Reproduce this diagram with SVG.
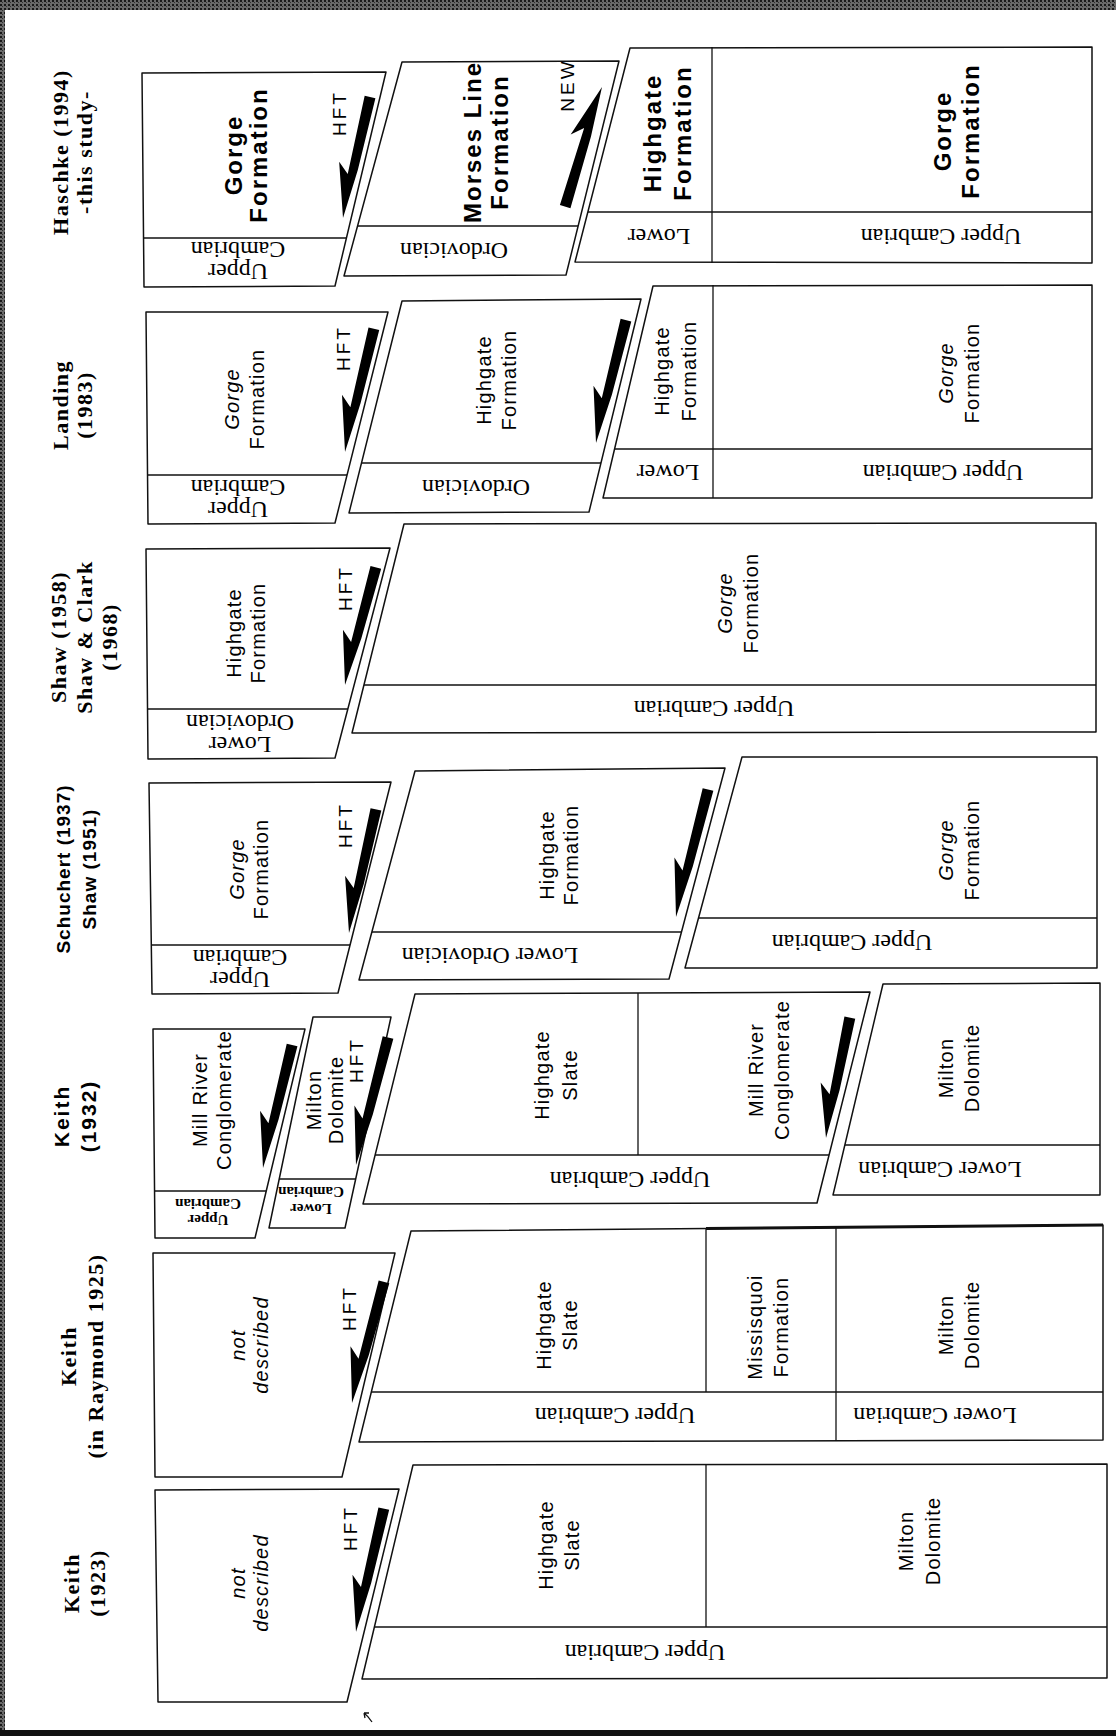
<svg xmlns="http://www.w3.org/2000/svg" xmlns:xlink="http://www.w3.org/1999/xlink" width="1116" height="1736" viewBox="0 0 1116 1736">
<defs>
<pattern id="tex" width="4" height="4" patternUnits="userSpaceOnUse"><rect width="4" height="4" fill="#6a6a6a"/><rect width="2" height="2" fill="#1a1a1a"/><rect x="2" y="2" width="1" height="1" fill="#333"/></pattern>
<path id="harp" d="M0,0 L-16,-54 L-5,-44 L-5.5,-124 L5.5,-124 L4,-50 Z"/>
<style>
.bx{fill:#fff;stroke:#111;stroke-width:1.5;stroke-linejoin:round}
.ln{stroke:#111;stroke-width:1.3;fill:none}
text{fill:#000;text-anchor:middle}
.hd{font-family:"Liberation Serif",serif;font-weight:bold;font-size:22px;letter-spacing:1.5px}
.hds{font-family:"Liberation Sans",sans-serif;font-weight:bold;font-size:19px;letter-spacing:1px}
.hdk{font-family:"Liberation Sans",sans-serif;font-weight:bold;font-size:21px;letter-spacing:2px}
.f{font-family:"Liberation Sans",sans-serif;font-size:20px;letter-spacing:1.2px}
.fi{font-family:"Liberation Sans",sans-serif;font-size:20px;letter-spacing:1.2px;font-style:italic}
.fb{font-family:"Liberation Sans",sans-serif;font-weight:bold;font-size:24px;letter-spacing:2px}
.ag{font-family:"Liberation Serif",serif;font-size:24px}
.sm{font-family:"Liberation Serif",serif;font-size:15px;font-weight:bold}
.hft{font-family:"Liberation Sans",sans-serif;font-size:19px;letter-spacing:3px}
</style>
</defs>
<rect width="1116" height="1736" fill="#fff"/>
<g id="frame">
<rect x="0" y="0" width="1116" height="10" fill="url(#tex)"/>
<rect x="0" y="0" width="5" height="1736" fill="url(#tex)"/>
<rect x="0" y="1730" width="1116" height="6" fill="#111"/>
<path d="M372,1722 Q368,1716 364,1713 M364,1713 l1,5 M364,1713 l5,0" class="ln" stroke-width="1"/>
</g>

<!-- Headers -->
<g id="headers">
<text class="hd" transform="translate(68,152) rotate(-90)">Haschke (1994)</text>
<text class="hd" transform="translate(92,152) rotate(-90)">-this study-</text>
<text class="hd" transform="translate(68,405) rotate(-90)">Landing</text>
<text class="hd" transform="translate(92,405) rotate(-90)">(1983)</text>
<text class="hd" transform="translate(66,637) rotate(-90)">Shaw (1958)</text>
<text class="hd" transform="translate(92,637) rotate(-90)">Shaw &amp; Clark</text>
<text class="hd" transform="translate(117,637) rotate(-90)">(1968)</text>
<text class="hds" transform="translate(70,869) rotate(-90)">Schuchert (1937)</text>
<text class="hds" transform="translate(96,869) rotate(-90)">Shaw (1951)</text>
<text class="hdk" transform="translate(69,1116) rotate(-90)">Keith</text>
<text class="hdk" transform="translate(96,1116) rotate(-90)">(1932)</text>
<text class="hd" transform="translate(76,1356) rotate(-90)">Keith</text>
<text class="hd" transform="translate(103,1356) rotate(-90)">(in Raymond 1925)</text>
<text class="hd" transform="translate(79,1583) rotate(-90)">Keith</text>
<text class="hd" transform="translate(105,1583) rotate(-90)">(1923)</text>
</g>

<!-- Row 1: Haschke -->
<g id="r1a">
<polygon class="bx" points="142,73 386,72 335,286 144,287"/>
<line class="ln" x1="144" y1="238" x2="346" y2="238"/>
<text class="fb" transform="translate(242,155) rotate(-90)">Gorge</text>
<text class="fb" transform="translate(267,155) rotate(-90)">Formation</text>
<text class="hft" transform="translate(346,113) rotate(-90)">HFT</text>
<text class="ag" transform="translate(238,241.6) rotate(180)">Cambrian</text>
<text class="ag" transform="translate(238,263.6) rotate(180)">Upper</text>
</g>
<g id="r1b">
<polygon class="bx" points="402,62 619,61 566,275 344,276"/>
<line class="ln" x1="357.6" y1="226" x2="578" y2="226"/>
<text class="fb" transform="translate(481,142) rotate(-90)">Morses Line</text>
<text class="fb" transform="translate(508,142) rotate(-90)">Formation</text>
<text class="hft" transform="translate(574,85) rotate(-90)">NEW</text>
<text class="ag" transform="translate(454,242.6) rotate(180)">Ordovician</text>
</g>
<g id="r1c">
<polygon class="bx" points="630,48 1092,47 1092,263 575,262"/>
<line class="ln" x1="712" y1="47" x2="712" y2="263"/>
<line class="ln" x1="588" y1="212" x2="1092" y2="212"/>
<text class="fb" transform="translate(661,133) rotate(-90)">Highgate</text>
<text class="fb" transform="translate(691,133) rotate(-90)">Formation</text>
<text class="fb" transform="translate(951,131) rotate(-90)">Gorge</text>
<text class="fb" transform="translate(979,131) rotate(-90)">Formation</text>
<text class="ag" transform="translate(659,228.6) rotate(180)">Lower</text>
<text class="ag" transform="translate(941,228.6) rotate(180)">Upper Cambrian</text>
</g>

<!-- Row 2: Landing -->
<g id="r2a">
<polygon class="bx" points="146,312 388,312 335,523 148,524"/>
<line class="ln" x1="148" y1="475" x2="347" y2="475"/>
<text class="fi" transform="translate(239,399) rotate(-90)">Gorge</text>
<text class="f" transform="translate(264,399) rotate(-90)">Formation</text>
<text class="hft" transform="translate(350,348) rotate(-90)">HFT</text>
<text class="ag" transform="translate(238,479.6) rotate(180)">Cambrian</text>
<text class="ag" transform="translate(238,501.6) rotate(180)">Upper</text>
</g>
<g id="r2b">
<polygon class="bx" points="402,301 641,299 589,512 349,513"/>
<line class="ln" x1="361.5" y1="463" x2="601" y2="463"/>
<text class="f" transform="translate(491,380) rotate(-90)">Highgate</text>
<text class="f" transform="translate(516,380) rotate(-90)">Formation</text>
<text class="ag" transform="translate(476,479.6) rotate(180)">Ordovician</text>
</g>
<g id="r2c">
<polygon class="bx" points="653,286 1092,285 1092,498 603,498"/>
<line class="ln" x1="713" y1="285" x2="713" y2="498"/>
<line class="ln" x1="614.6" y1="449" x2="1092" y2="449"/>
<text class="f" transform="translate(669,371) rotate(-90)">Highgate</text>
<text class="f" transform="translate(696,371) rotate(-90)">Formation</text>
<text class="fi" transform="translate(953,373) rotate(-90)">Gorge</text>
<text class="f" transform="translate(979,373) rotate(-90)">Formation</text>
<text class="ag" transform="translate(668,464.6) rotate(180)">Lower</text>
<text class="ag" transform="translate(943,464.6) rotate(180)">Upper Cambrian</text>
</g>

<!-- Row 3: Shaw -->
<g id="r3a">
<polygon class="bx" points="146,549 390,548 335,758 148,759"/>
<line class="ln" x1="148" y1="709" x2="348" y2="709"/>
<text class="f" transform="translate(241,633) rotate(-90)">Highgate</text>
<text class="f" transform="translate(265,633) rotate(-90)">Formation</text>
<text class="hft" transform="translate(352,588) rotate(-90)">HFT</text>
<text class="ag" transform="translate(240,714.6) rotate(180)">Ordovician</text>
<text class="ag" transform="translate(240,736.6) rotate(180)">Lower</text>
</g>
<g id="r3b">
<polygon class="bx" points="404,524 1096,523 1096,732 352,733"/>
<line class="ln" x1="364" y1="685" x2="1096" y2="685"/>
<text class="fi" transform="translate(732,603) rotate(-90)">Gorge</text>
<text class="f" transform="translate(758,603) rotate(-90)">Formation</text>
<text class="ag" transform="translate(714,700.6) rotate(180)">Upper Cambrian</text>
</g>

<!-- Row 4: Schuchert -->
<g id="r4a">
<polygon class="bx" points="149,783 391,782 338,993 152,994"/>
<line class="ln" x1="152" y1="945" x2="350" y2="945"/>
<text class="fi" transform="translate(244,869) rotate(-90)">Gorge</text>
<text class="f" transform="translate(268,869) rotate(-90)">Formation</text>
<text class="hft" transform="translate(352,825) rotate(-90)">HFT</text>
<text class="ag" transform="translate(240,949.6) rotate(180)">Cambrian</text>
<text class="ag" transform="translate(240,971.6) rotate(180)">Upper</text>
</g>
<g id="r4b">
<polygon class="bx" points="415,771 725,768 669,979 359,980"/>
<line class="ln" x1="372" y1="932" x2="681.5" y2="932"/>
<text class="f" transform="translate(554,855) rotate(-90)">Highgate</text>
<text class="f" transform="translate(578,855) rotate(-90)">Formation</text>
<text class="ag" transform="translate(490,947.6) rotate(180)">Lower Ordovician</text>
</g>
<g id="r4c">
<polygon class="bx" points="742,757 1097,757 1097,968 685,968"/>
<line class="ln" x1="698.5" y1="918" x2="1097" y2="918"/>
<text class="fi" transform="translate(953,850) rotate(-90)">Gorge</text>
<text class="f" transform="translate(979,850) rotate(-90)">Formation</text>
<text class="ag" transform="translate(852,934.6) rotate(180)">Upper Cambrian</text>
</g>

<!-- Row 5: Keith 1932 -->
<g id="r5a">
<polygon class="bx" points="153,1029 305,1029 255,1238 155,1238"/>
<line class="ln" x1="155" y1="1191" x2="266" y2="1191"/>
<text class="f" transform="translate(207,1100) rotate(-90)">Mill River</text>
<text class="f" transform="translate(231,1100) rotate(-90)">Conglomerate</text>
<text class="sm" transform="translate(208,1199) rotate(180)">Cambrian</text>
<text class="sm" transform="translate(208,1215) rotate(180)">Upper</text>
</g>
<g id="r5b">
<polygon class="bx" points="313,1017 391,1017 345,1228 269,1228"/>
<line class="ln" x1="279" y1="1179" x2="356" y2="1179"/>
<text class="f" transform="translate(321,1100) rotate(-90)">Milton</text>
<text class="f" transform="translate(343,1100) rotate(-90)">Dolomite</text>
<text class="hft" transform="translate(363,1060) rotate(-90)">HFT</text>
<text class="sm" transform="translate(311,1187) rotate(180)">Cambrian</text>
<text class="sm" transform="translate(311,1204) rotate(180)">Lower</text>
</g>
<g id="r5c">
<polygon class="bx" points="415,994 870,992 817,1203 363,1204"/>
<line class="ln" x1="638" y1="993" x2="638" y2="1155"/>
<line class="ln" x1="375" y1="1155" x2="829" y2="1155"/>
<text class="f" transform="translate(549,1075) rotate(-90)">Highgate</text>
<text class="f" transform="translate(577,1075) rotate(-90)">Slate</text>
<text class="f" transform="translate(763,1070) rotate(-90)">Mill River</text>
<text class="f" transform="translate(789,1070) rotate(-90)">Conglomerate</text>
<text class="ag" transform="translate(630,1171.6) rotate(180)">Upper Cambrian</text>
</g>
<g id="r5d">
<polygon class="bx" points="883,984 1100,983 1100,1195 833,1195"/>
<line class="ln" x1="845" y1="1145" x2="1100" y2="1145"/>
<text class="f" transform="translate(953,1068) rotate(-90)">Milton</text>
<text class="f" transform="translate(979,1068) rotate(-90)">Dolomite</text>
<text class="ag" transform="translate(940,1161.6) rotate(180)">Lower Cambrian</text>
</g>

<!-- Row 6: Keith in Raymond 1925 -->
<g id="r6a">
<polygon class="bx" points="153,1253 395,1253 342,1477 155,1477"/>
<text class="fi" transform="translate(245,1345) rotate(-90)">not</text>
<text class="fi" transform="translate(268,1345) rotate(-90)">described</text>
<text class="hft" transform="translate(356,1308) rotate(-90)">HFT</text>
</g>
<g id="r6b">
<polygon class="bx" points="411,1231 1103,1225 1103,1440 359,1442"/>
<line x1="706" y1="1228.5" x2="1103" y2="1225" stroke="#111" stroke-width="3"/>
<line class="ln" x1="706" y1="1228" x2="706" y2="1392"/>
<line class="ln" x1="836" y1="1227" x2="836" y2="1441"/>
<line class="ln" x1="371" y1="1392" x2="1103" y2="1392"/>
<text class="f" transform="translate(551,1325) rotate(-90)">Highgate</text>
<text class="f" transform="translate(577,1325) rotate(-90)">Slate</text>
<text class="f" transform="translate(762,1327) rotate(-90)">Missisquoi</text>
<text class="f" transform="translate(788,1327) rotate(-90)">Formation</text>
<text class="f" transform="translate(953,1325) rotate(-90)">Milton</text>
<text class="f" transform="translate(979,1325) rotate(-90)">Dolomite</text>
<text class="ag" transform="translate(615,1407.6) rotate(180)">Upper Cambrian</text>
<text class="ag" transform="translate(935,1407.6) rotate(180)">Lower Cambrian</text>
</g>

<!-- Row 7: Keith 1923 -->
<g id="r7a">
<polygon class="bx" points="155,1490 399,1489 347,1702 158,1702"/>
<text class="fi" transform="translate(245,1583) rotate(-90)">not</text>
<text class="fi" transform="translate(268,1583) rotate(-90)">described</text>
<text class="hft" transform="translate(357,1528) rotate(-90)">HFT</text>
</g>
<g id="r7b">
<polygon class="bx" points="413,1465 1107,1464 1107,1678 362,1679"/>
<line class="ln" x1="706" y1="1465" x2="706" y2="1627"/>
<line class="ln" x1="374" y1="1627" x2="1107" y2="1627"/>
<text class="f" transform="translate(553,1545) rotate(-90)">Highgate</text>
<text class="f" transform="translate(579,1545) rotate(-90)">Slate</text>
<text class="f" transform="translate(913,1541) rotate(-90)">Milton</text>
<text class="f" transform="translate(940,1541) rotate(-90)">Dolomite</text>
<text class="ag" transform="translate(645,1644.6) rotate(180)">Upper Cambrian</text>
</g>

<!-- Connectors: fault arrows -->
<g id="arrows" fill="#000">
<use xlink:href="#harp" transform="translate(343,218) rotate(12.6)"/>
<use xlink:href="#harp" transform="translate(602,87) rotate(17.1) scale(1,-1.01)"/>
<use xlink:href="#harp" transform="translate(345,452) rotate(13.2) scale(1,1.02)"/>
<use xlink:href="#harp" transform="translate(596,443) rotate(13.7) scale(1,1.02)"/>
<use xlink:href="#harp" transform="translate(345,685) rotate(14.7) scale(1,0.98)"/>
<use xlink:href="#harp" transform="translate(349,933) rotate(12.3) scale(1,1.02)"/>
<use xlink:href="#harp" transform="translate(676,917) rotate(14.1) scale(1,1.06)"/>
<use xlink:href="#harp" transform="translate(263,1168) rotate(13.3) scale(1,1.02)"/>
<use xlink:href="#harp" transform="translate(356,1165) rotate(14.1) scale(1,1.06)"/>
<use xlink:href="#harp" transform="translate(826,1138) rotate(11.2) scale(1,0.99)"/>
<use xlink:href="#harp" transform="translate(352,1403) rotate(14.8) scale(1,1.01)"/>
<use xlink:href="#harp" transform="translate(356,1632) rotate(12.7) scale(1,1.02)"/>
</g>
</svg>
